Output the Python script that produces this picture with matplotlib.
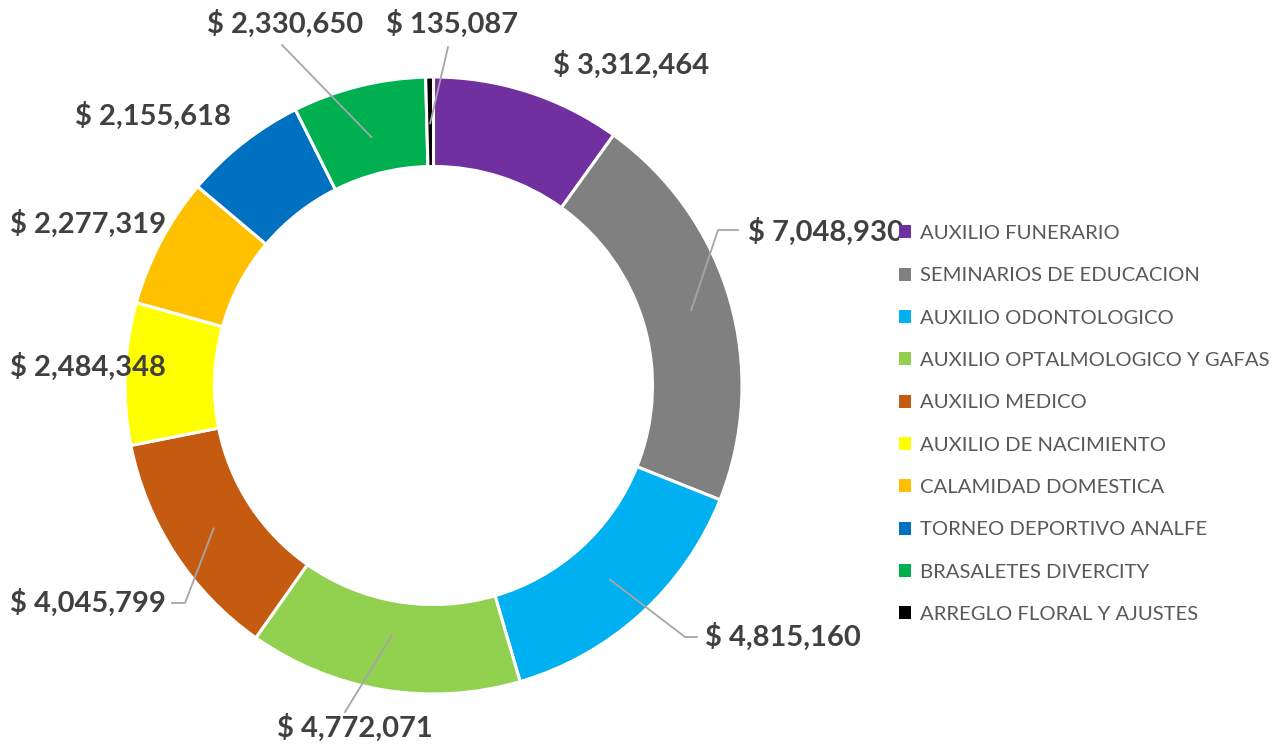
import matplotlib
matplotlib.use("Agg")
import matplotlib.pyplot as plt
from matplotlib.patches import Patch
import numpy as np

categories = ["AUXILIO FUNERARIO", "SEMINARIOS DE EDUCACION", "AUXILIO ODONTOLOGICO",
              "AUXILIO OPTALMOLOGICO Y GAFAS", "AUXILIO MEDICO", "AUXILIO DE NACIMIENTO",
              "CALAMIDAD DOMESTICA", "TORNEO DEPORTIVO ANALFE", "BRASALETES DIVERCITY",
              "ARREGLO FLORAL Y AJUSTES"]
values = [3312464, 7048930, 4815160, 4772071, 4045799, 2484348, 2277319, 2155618, 2330650, 135087]
colors = ["#7030A0", "#808080", "#00B0F0", "#92D050", "#C55A11", "#FFFF00",
          "#FFC000", "#0070C0", "#00B050", "#000000"]

W, H = 1282, 744
CX, CY, R = 433.5, 385.5, 308.5

# label layout (pixel centres of label text) and optional leader-line elbows (pixels)
label_pos = [(631, 65), (826, 232), (783, 637), (355, 728), (88, 603),
             (88, 367), (88, 224), (153, 116), (285, 24), (452, 24)]
leaders = [None,
           [(718, 230), (738, 230)],
           [(685, 637), (697, 637)],
           [(345, 712)],
           [(185, 603), (172, 603)],
           None, None, None,
           [(282, 45)],
           [(448, 47)]]
leader_r = [0, 0.87, 0.85, 0.82, 0.85, 0, 0, 0, 0.83, 0.85]

def p2d(px, py):
    return ((px - CX) / R, (CY - py) / R)

fig = plt.figure(figsize=(W / 100, H / 100), dpi=100)
ax = fig.add_axes([(CX - R) / W, (H - CY - R) / H, 2 * R / W, 2 * R / H])

wedges, _ = ax.pie(values, colors=colors, startangle=90, counterclock=False, radius=1,
                   wedgeprops=dict(width=0.29, edgecolor="white", linewidth=2.2))
ax.set_xlim(-1, 1)
ax.set_ylim(-1, 1)
ax.axis("off")

total = sum(values)
cum = 0
for i, v in enumerate(values):
    mid = (cum + v / 2) / total * 2 * np.pi
    cum += v
    lx, ly = p2d(*label_pos[i])
    ax.text(lx, ly, f"$ {v:,}", ha="center", va="center", fontsize=21,
            fontweight="bold", color="#404040", family="Lato", clip_on=False, zorder=5)
    if leaders[i] is not None:
        r = leader_r[i]
        pts = [(r * np.sin(mid), r * np.cos(mid))] + [p2d(*p) for p in leaders[i]]
        xs, ys = zip(*pts)
        ax.plot(xs, ys, color="#A6A6A6", lw=1.3, clip_on=False, zorder=4)

handles = [Patch(facecolor=c, edgecolor="none") for c in colors]
leg = fig.legend(handles, categories, loc="center left",
                 bbox_to_anchor=(899 / W, 1 - 424 / H), frameon=True,
                 handlelength=0.6, handleheight=0.6, handletextpad=0.45,
                 labelspacing=1.25, borderpad=0.0, borderaxespad=0,
                 prop=dict(family="Lato", size=14.6))
leg.get_frame().set_facecolor("white")
leg.get_frame().set_edgecolor("none")
leg.set_zorder(10)
for t in leg.get_texts():
    t.set_color("#595959")

fig.savefig("out.png", dpi=100, facecolor="white")
